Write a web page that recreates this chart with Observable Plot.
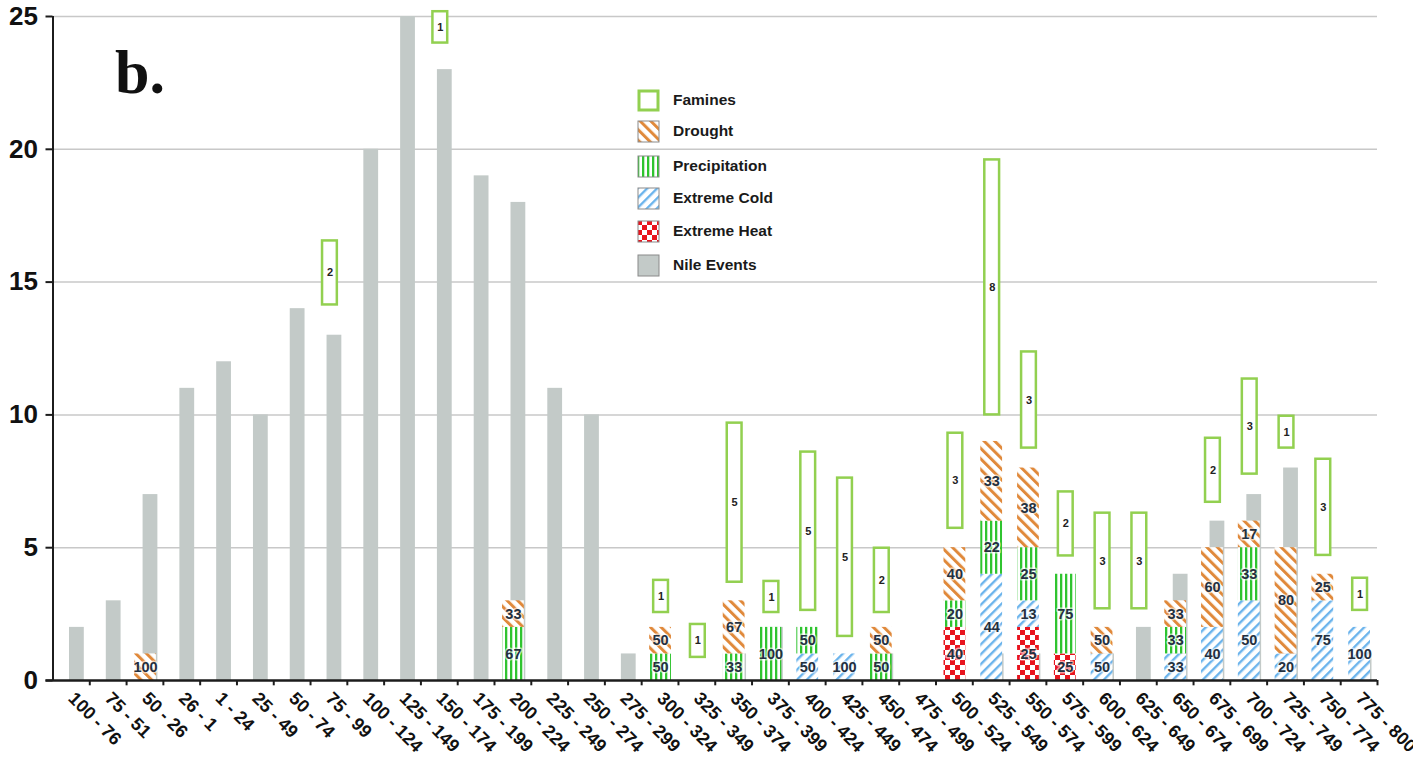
<!DOCTYPE html>
<html>
<head>
<meta charset="utf-8">
<script src="https://cdn.jsdelivr.net/npm/d3@7"></script>
<script src="https://cdn.jsdelivr.net/npm/@observablehq/plot@0.6"></script>
<style>
  html, body { margin: 0; padding: 0; background: white; }
  #wrap { position: relative; width: 1413px; height: 761px; overflow: hidden; font-family: "Liberation Sans", Arial, sans-serif; }
  .lg-row { position: absolute; left: 637px; height: 22px; display: flex; align-items: center; }
  .lg-row svg { width: 23px; height: 23px; display: block; }
  .lg-row span { margin-left: 13px; font-weight: bold; font-size: 15.5px; color: #1a1a1a; }
</style>
</head>
<body>
<svg width="0" height="0" style="position:absolute">
  <defs>
    <pattern id="pat-drought" patternUnits="userSpaceOnUse" width="7.5" height="7.5" patternTransform="rotate(-45)">
      <rect width="7.5" height="7.5" fill="white"/>
      <rect width="3" height="7.5" fill="#e0893b"/>
    </pattern>
    <pattern id="pat-cold" patternUnits="userSpaceOnUse" width="7" height="7" patternTransform="rotate(45)">
      <rect width="7" height="7" fill="white"/>
      <rect width="2.4" height="7" fill="#6cb4ec"/>
    </pattern>
    <pattern id="pat-precip" patternUnits="userSpaceOnUse" width="5" height="5">
      <rect width="5" height="5" fill="white"/>
      <rect width="2.3" height="5" fill="#2fc42f"/>
    </pattern>
    <pattern id="pat-heat" patternUnits="userSpaceOnUse" width="10" height="10">
      <rect width="10" height="10" fill="white"/>
      <rect width="5" height="5" fill="#e8141e"/>
      <rect x="5" y="5" width="5" height="5" fill="#e8141e"/>
    </pattern>
  </defs>
</svg>
<div id="wrap"></div>
<script>
// ---------- data ----------
const categories = ["100 - 76","75 - 51","50 - 26","26 - 1","1 - 24","25 - 49","50 - 74","75 - 99","100 - 124","125 - 149","150 - 174","175 - 199","200 - 224","225 - 249","250 - 274","275 - 299","300 - 324","325 - 349","350 - 374","375 - 399","400 - 424","425 - 449","450 - 474","475 - 499","500 - 524","525 - 549","550 - 574","575 - 599","600 - 624","625 - 649","650 - 674","675 - 699","700 - 724","725 - 749","750 - 774","775 - 800"];

const nileEvents = [2,3,7,11,12,10,14,13,20,25,23,19,18,11,10,1,0,0,1,2,0,0,1,0,0,1,1,0,1,2,4,6,7,8,0,1];

// climate event counts (stack height) and printed percentages
const drought    = [0,0,1,0,0,0,0,0,0,0,0,0,1,0,0,0,1,0,2,0,0,0,1,0,2,3,3,0,1,0,1,3,1,4,1,0];
const droughtPct = [null,null,100,null,null,null,null,null,null,null,null,null,33,null,null,null,50,null,67,null,null,null,50,null,40,33,38,null,50,null,33,60,17,80,25,null];
const precipitation    = [0,0,0,0,0,0,0,0,0,0,0,0,2,0,0,0,1,0,1,2,1,0,1,0,1,2,2,3,0,0,1,0,2,0,0,0];
const precipitationPct = [null,null,null,null,null,null,null,null,null,null,null,null,67,null,null,null,50,null,33,100,50,null,50,null,20,22,25,75,null,null,33,null,33,null,null,null];
const extremeCold    = [0,0,0,0,0,0,0,0,0,0,0,0,0,0,0,0,0,0,0,0,1,1,0,0,0,4,1,0,1,0,1,2,3,1,3,2];
const extremeColdPct = [null,null,null,null,null,null,null,null,null,null,null,null,null,null,null,null,null,null,null,null,50,100,null,null,null,44,13,null,50,null,33,40,50,20,75,100];
const extremeHeat    = [0,0,0,0,0,0,0,0,0,0,0,0,0,0,0,0,0,0,0,0,0,0,0,0,2,0,2,1,0,0,0,0,0,0,0,0];
const extremeHeatPct = [null,null,null,null,null,null,null,null,null,null,null,null,null,null,null,null,null,null,null,null,null,null,null,null,40,null,25,25,null,null,null,null,null,null,null,null];

// famines: count label, and the floating box's lower / upper value as drawn
const famineCount = [null,null,null,null,null,null,null,2,null,null,1,null,null,null,null,null,1,1,5,1,5,5,2,null,3,8,3,2,3,3,null,2,3,1,3,1];
const famineLow   = [null,null,null,null,null,null,null,14.14,null,null,24.0,null,null,null,null,null,2.56,0.87,3.70,2.56,2.64,1.66,2.56,null,5.73,10.0,8.75,4.69,2.7,2.7,null,6.71,7.77,8.75,4.71,2.64];
const famineHigh  = [null,null,null,null,null,null,null,16.55,null,null,25.18,null,null,null,null,null,3.77,2.11,9.69,3.73,8.6,7.62,4.98,null,9.31,19.6,12.37,7.1,6.3,6.3,null,9.12,11.35,9.95,8.33,3.85];

const yTicks = [0,5,10,15,20,25];
const stackOrder = ["heat","cold","precip","drought"];

// ---------- tables ----------
const nile = categories.map((c,i) => ({cat:c, n:nileEvents[i]})).filter(d => d.n > 0);
const series = {heat:[extremeHeat, extremeHeatPct], cold:[extremeCold, extremeColdPct], precip:[precipitation, precipitationPct], drought:[drought, droughtPct]};
const climate = [];
for (const t of stackOrder) {
  const [vals, pcts] = series[t];
  categories.forEach((c,i) => { if (vals[i] > 0) climate.push({cat:c, type:t, n:vals[i], pct:pcts[i], fill:`url(#pat-${t})`}); });
}
const famines = categories.map((c,i) => ({cat:c, count:famineCount[i], lo:famineLow[i], hi:famineHigh[i]})).filter(d => d.count != null);

// ---------- layout ----------
const W = 1413, H = 761, ML = 52.5, MR = 36, MT = 16, MB = 81;
const bw = (W - ML - MR) / categories.length;
const axisColor = "#1c1c1c";

const chart = Plot.plot({
  width: W, height: H,
  marginLeft: ML, marginRight: MR, marginTop: MT, marginBottom: MB,
  x: {type: "band", domain: categories, padding: 0, round: false, label: null},
  y: {domain: [0, 25], label: null},
  color: {type: "identity"},
  style: {fontFamily: "'Liberation Sans', Arial, sans-serif", background: "white", color: "#111"},
  marks: [
    Plot.gridY({ticks: yTicks.slice(1), stroke: "#c8c8c8", strokeOpacity: 1, strokeWidth: 1.5}),
    Plot.barY(nile, {x: "cat", y: "n", fill: "#c3cac8", insetLeft: 16.5, insetRight: 5.5}),
    Plot.barY(climate, Plot.stackY({order: stackOrder}, {x: "cat", y: "n", z: "type", fill: "fill", insetLeft: 8, insetRight: 7})),
    Plot.text(climate, Plot.stackY({order: stackOrder}, {x: "cat", y: "n", z: "type", text: d => String(d.pct), dx: 0.5, fontSize: 14.5, fontWeight: "bold", fill: "#24303f", stroke: "white", strokeWidth: 3, strokeOpacity: 0.6})),
    Plot.barY(famines, {x: "cat", y1: "lo", y2: "hi", fill: "white", stroke: "#92d050", strokeWidth: 2.5, insetLeft: 12, insetRight: 10}),
    Plot.text(famines, {x: "cat", y: d => (d.lo + d.hi) / 2, text: d => String(d.count), dx: 1, fontSize: 11, fontWeight: "bold", fill: "#222"}),
    Plot.ruleX([categories[0]], {x: d => d, y1: 0, y2: 25, dx: -bw / 2, stroke: axisColor, strokeWidth: 2}),
    Plot.ruleX(categories, {x: d => d, y1: 0, y2: -0.2, dx: bw / 2, stroke: axisColor, strokeWidth: 2}),
    Plot.ruleY([0], {stroke: axisColor, strokeWidth: 2.5, insetLeft: -7}),
    Plot.axisY({ticks: yTicks, tickSize: 7, tickPadding: 8, fontSize: 26, fontWeight: "bold", stroke: axisColor, strokeWidth: 2, label: null}),
    Plot.axisX({tickSize: 0, tickPadding: 15, tickRotate: 45, fontSize: 18, fontWeight: "bold", label: null})
  ]
});

// panel letter
d3.select(chart).append("text")
  .attr("x", 115).attr("y", 93)
  .attr("text-anchor", "start")
  .attr("font-family", "'Liberation Serif', 'Times New Roman', serif")
  .attr("font-weight", "bold").attr("font-size", 62).attr("fill", "#111")
  .text("b.");

const wrap = document.getElementById("wrap");
wrap.appendChild(chart);

// legend
const legendItems = [
  {label: "Famines", fill: "white", stroke: "#92d050", sw: 3, cy: 100},
  {label: "Drought", fill: "url(#pat-drought)", stroke: "#8a8a8a", sw: 1, cy: 131},
  {label: "Precipitation", fill: "url(#pat-precip)", stroke: "#8a8a8a", sw: 1, cy: 166},
  {label: "Extreme Cold", fill: "url(#pat-cold)", stroke: "#8a8a8a", sw: 1, cy: 198},
  {label: "Extreme Heat", fill: "url(#pat-heat)", stroke: "#8a8a8a", sw: 1, cy: 231},
  {label: "Nile Events", fill: "#c3cac8", stroke: "#8a8a8a", sw: 1, cy: 265}
];
for (const it of legendItems) {
  const row = document.createElement("div");
  row.className = "lg-row";
  row.style.top = (it.cy - 11) + "px";
  const inset = it.sw / 2 + 0.5;
  row.innerHTML = `<svg viewBox="0 0 23 23"><rect x="${inset}" y="${inset}" width="${23 - 2*inset}" height="${23 - 2*inset}" fill="${it.fill}" stroke="${it.stroke}" stroke-width="${it.sw}"/></svg><span>${it.label}</span>`;
  wrap.appendChild(row);
}
</script>
</body>
</html>
